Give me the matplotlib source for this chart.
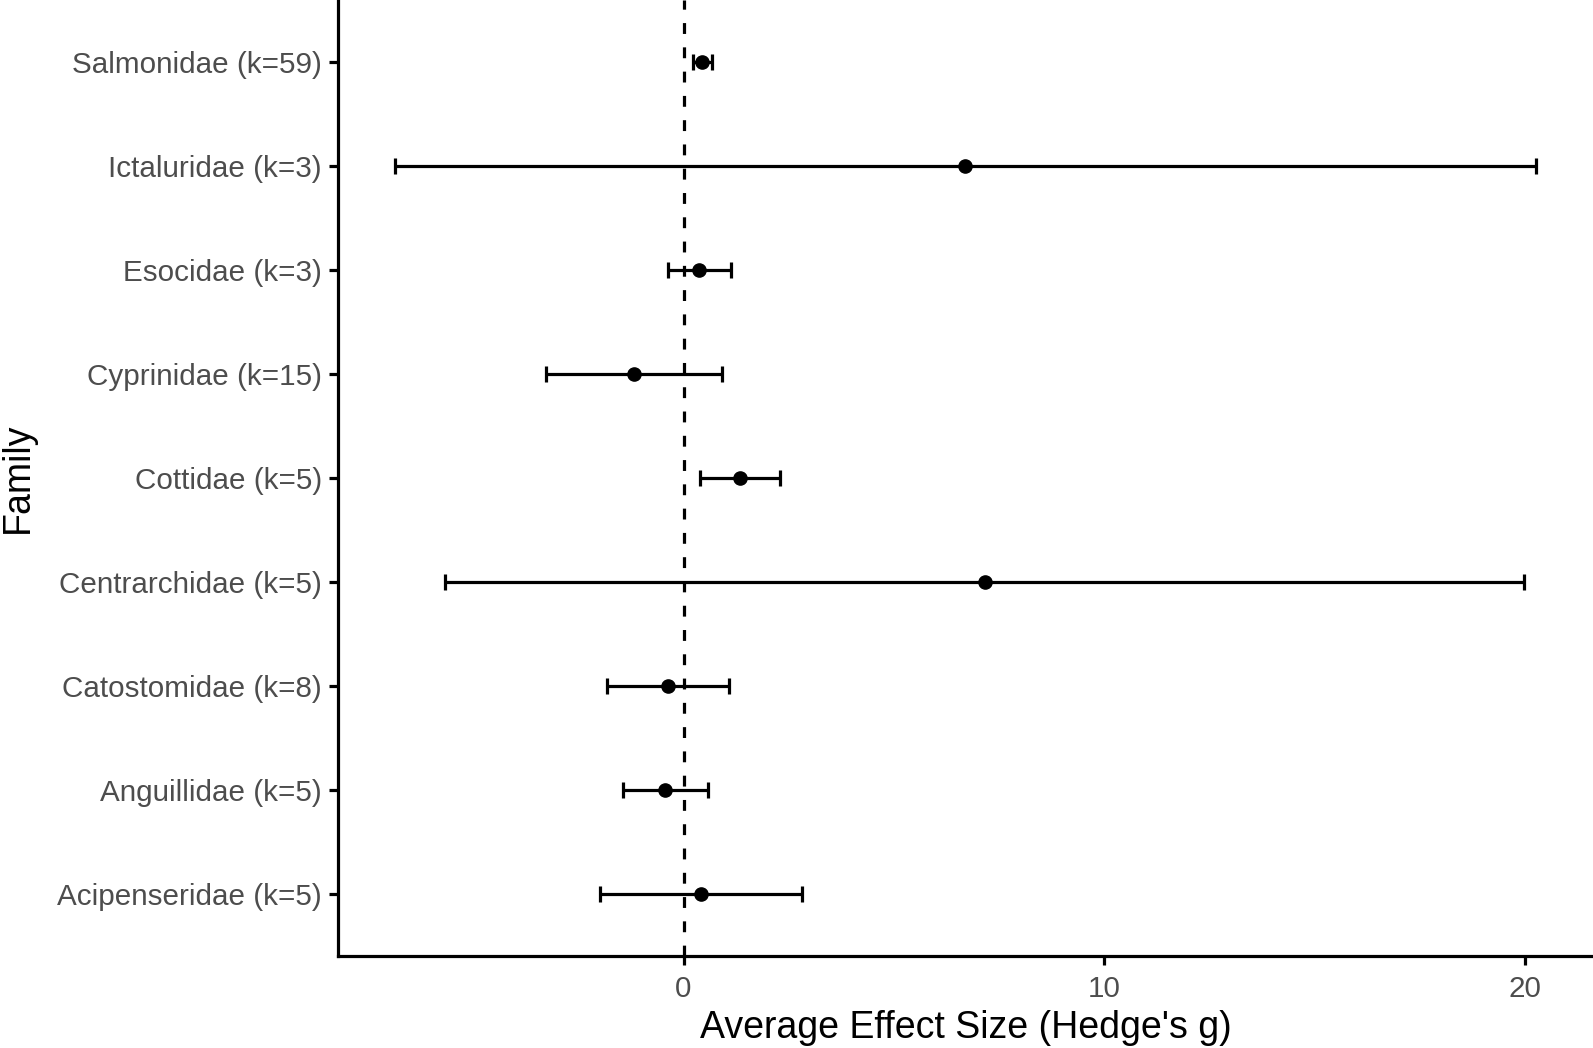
import matplotlib.pyplot as plt

plt.rcParams['font.family'] = ['Liberation Sans', 'DejaVu Sans']

# families, bottom to top
families = ["Acipenseridae (k=5)", "Anguillidae (k=5)", "Catostomidae (k=8)",
            "Centrarchidae (k=5)", "Cottidae (k=5)", "Cyprinidae (k=15)",
            "Esocidae (k=3)", "Ictaluridae (k=3)", "Salmonidae (k=59)"]
effect = [0.42, -0.43, -0.38, 7.17, 1.35, -1.19, 0.37, 6.70, 0.45]
ci_low = [-1.99, -1.43, -1.83, -5.67, 0.39, -3.26, -0.36, -6.86, 0.23]
ci_high = [2.82, 0.57, 1.09, 19.98, 2.30, 0.91, 1.13, 20.27, 0.67]

ypos = list(range(1, len(families) + 1))
err = [[e - lo for e, lo in zip(effect, ci_low)],
       [hi - e for e, hi in zip(effect, ci_high)]]

lw = 2.3

fig = plt.figure(figsize=(15.93, 10.48), dpi=100)
ax = fig.add_axes([0.2122, 0.0878, 0.7878, 0.9122])

ax.axvline(0, color="black", linewidth=lw, linestyle=(0, (3.4, 4.2)), zorder=1)
ax.errorbar(effect, ypos, xerr=err, fmt="o", color="black", ecolor="black",
            elinewidth=lw, capsize=5.5, capthick=lw, markersize=9.5, zorder=3)

lo, hi = min(ci_low), max(ci_high)
pad = (hi - lo) * 0.05
ax.set_xlim(lo - pad, hi + pad)
ax.set_ylim(0.4, len(families) + 0.6)

ax.set_xticks([0, 10, 20])
ax.set_yticks(ypos)
ax.set_yticklabels(families)

for side in ["top", "right"]:
    ax.spines[side].set_visible(False)
for side in ["left", "bottom"]:
    ax.spines[side].set_linewidth(lw)

ax.tick_params(axis="both", which="major", length=6.7, width=lw,
               labelsize=21.3, labelcolor="#4D4D4D")
ax.tick_params(axis="x", pad=7)
ax.tick_params(axis="y", pad=5)

ax.set_xlabel("Average Effect Size (Hedge's g)", fontsize=27, labelpad=5)
ax.set_ylabel("Family", fontsize=27, labelpad=15)

plt.savefig("out.png", dpi=100)
